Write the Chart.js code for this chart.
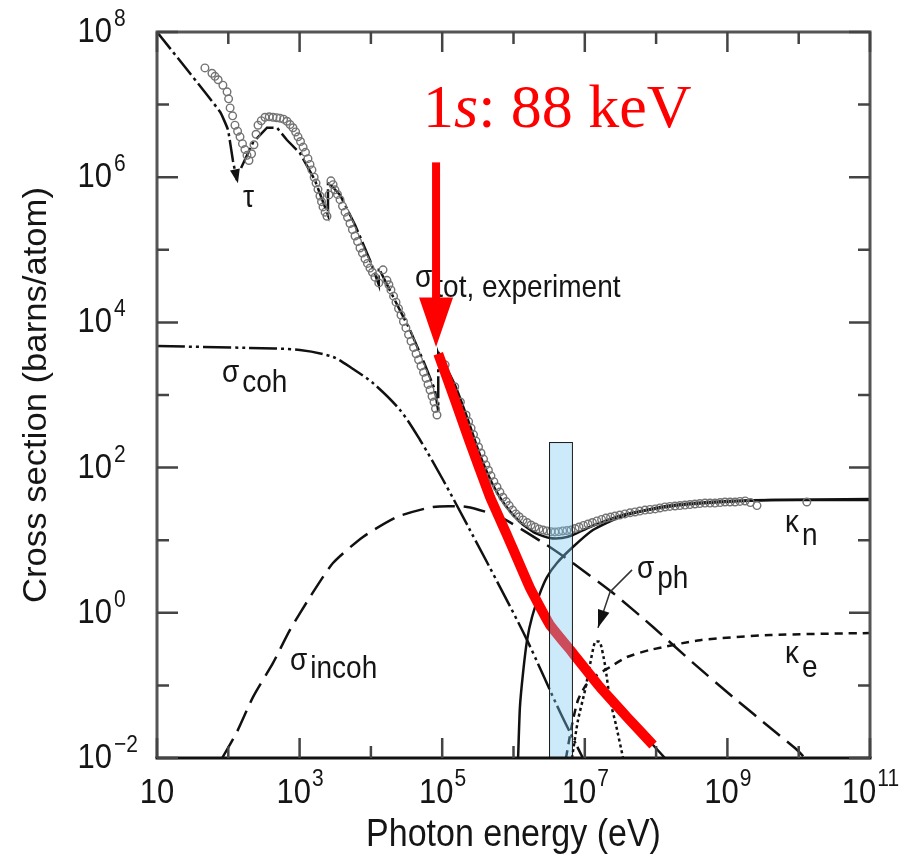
<!DOCTYPE html>
<html>
<head>
<meta charset="utf-8">
<script src="https://cdn.jsdelivr.net/npm/chart.js@4.4.1/dist/chart.umd.min.js"></script>
<style>
  html, body { margin: 0; padding: 0; background: #fff; }
  #wrap { width: 921px; height: 861px; }
</style>
</head>
<body>
<div id="wrap"><canvas id="grafico"></canvas></div>
<script>
// photon energy in eV, cross section in barns/atom (lead)

// photoelectric tau, below the M edges (ends in the arrow)
const tauLow = [[10, 1e8], [29, 2.7e7], [77, 7.9e6], [99, 4.5e6], [116, 1.7e6], [132, 9.1e5]];
// photoelectric tau, M and L edges up to the K edge
const tauMid = [[151, 1.34e6], [222, 3.0e6], [349, 4.8e6], [482, 4.8e6], [665, 3.25e6], [1010, 2.15e6],
  [1640, 9.1e5], [2500, 3.0e5], [2500, 8.6e5], [3690, 5.7e5], [6000, 2.2e5], [9700, 7.2e4],
  [12900, 3.3e4], [12900, 5.6e4], [21800, 2.0e4], [35300, 7900], [57400, 2600], [79200, 1170], [88000, 600]];
// photoelectric tau above the 1s edge (88 keV), drawn in red
const tauHigh = [[88000, 3700], [1.51e5, 853], [2.38e5, 240], [4.68e5, 39.4], [8.1e5, 11.8], [1.7e6, 2.2],
  [3.25e6, 0.68], [6.6e6, 0.288], [1.63e7, 0.095], [3.91e7, 0.0367], [9.06e7, 0.0151]];
const tauEnd = [1.33e8, 0.01];

const totalCalc = [[88000, 3900], [1.51e5, 1370], [2.3e5, 453], [3.39e5, 149], [5.15e5, 57.5], [7.6e5, 30.5],
  [1.23e6, 17.8], [2.0e6, 12.6], [3.25e6, 10.7], [4.8e6, 10.7], [6.8e6, 11.8], [1.18e7, 15.2],
  [3.4e7, 22.2], [1.73e8, 29.6], [8.7e8, 33.6], [4.4e9, 35.8], [1e11, 36.9]];

// measured total cross section (open circles)
const expData = [[47, 3.2e7], [59, 2.7e7], [65, 2.45e7], [72, 2.2e7], [84, 1.85e7], [96, 1.5e7], [101, 1.2e7],
  [106, 9.0e6], [115, 7.0e6], [124, 5.2e6], [135, 4.3e6], [146, 3.6e6], [158, 2.9e6], [171, 2.4e6],
  [183, 2.0e6], [195, 1.7e6], [212, 2.1e6], [229, 2.8e6], [245, 3.9e6], [261, 5.2e6], [290, 6.0e6],
  [327, 6.7e6], [375, 6.8e6], [424, 6.7e6], [478, 6.6e6], [531, 6.5e6], [596, 6.3e6], [665, 5.9e6],
  [735, 5.3e6], [807, 4.8e6], [880, 4.2e6], [950, 3.6e6], [1030, 3.1e6], [1120, 2.6e6], [1210, 2.2e6],
  [1310, 1.8e6], [1400, 1.5e6], [1490, 1.26e6], [1600, 1.0e6], [1700, 8.3e5], [1810, 6.8e5], [1930, 5.5e5],
  [2030, 4.6e5], [2130, 3.9e5], [2280, 3.3e5], [2420, 2.9e5], [2580, 5.7e5], [2750, 8.9e5], [2950, 7.9e5],
  [3130, 6.7e5], [3400, 5.8e5], [3690, 4.9e5], [4000, 4.0e5], [4340, 3.3e5], [4700, 2.8e5], [5090, 2.3e5],
  [5500, 1.9e5], [5990, 1.55e5], [6500, 1.3e5], [7030, 1.06e5], [7600, 9.0e4], [8260, 7.5e4], [8950, 6.5e4],
  [9700, 5.6e4], [10500, 4.9e4], [11400, 4.2e4], [12900, 3.5e4], [14800, 5.3e4], [16800, 3.8e4],
  [17900, 3.3e4], [19100, 2.8e4], [20800, 2.3e4], [22500, 1.9e4], [24400, 1.55e4], [26400, 1.26e4],
  [28600, 1.03e4], [31000, 8400], [33700, 6800], [36500, 5500], [39600, 4500], [43000, 3700], [46600, 3050],
  [50400, 2500], [54700, 2050], [59300, 1700], [63300, 1400], [67500, 1170], [72000, 960], [76800, 800],
  [80500, 650], [84500, 530], [1.1e5, 2600], [1.5e5, 1300], [1.8e5, 800], [2.16e5, 530], [2.35e5, 430],
  [2.54e5, 350], [2.75e5, 285], [2.98e5, 232], [3.23e5, 192], [3.5e5, 159], [3.8e5, 131], [4.1e5, 109],
  [4.45e5, 92], [4.83e5, 77], [5.3e5, 64], [5.87e5, 54], [6.45e5, 46], [7.1e5, 39], [7.9e5, 34], [8.7e5, 30],
  [9.7e5, 26], [1.08e6, 23], [1.2e6, 21], [1.36e6, 19], [1.55e6, 17.5], [1.76e6, 16.2], [2.0e6, 15.2],
  [2.28e6, 14.3], [2.6e6, 13.8], [2.95e6, 13.4], [3.35e6, 13.1], [3.8e6, 13], [4.3e6, 13.1], [4.9e6, 13.4],
  [5.6e6, 13.6], [6.4e6, 13.8], [7.3e6, 14.5], [8.3e6, 15.2], [9.6e6, 16], [1.11e7, 16.7], [1.28e7, 17.5],
  [1.48e7, 18.4], [1.72e7, 19.3], [1.98e7, 20.2], [2.3e7, 20.8], [2.65e7, 21.5], [3.1e7, 22.2], [3.66e7, 23],
  [4.3e7, 23.8], [5.06e7, 24.5], [5.9e7, 25.2], [6.98e7, 26], [8.2e7, 26.5], [9.7e7, 27], [1.13e8, 27.8],
  [1.33e8, 28.7], [1.56e8, 29.2], [1.84e8, 29.6], [2.16e8, 30], [2.54e8, 30.5], [2.98e8, 31], [3.5e8, 31.5],
  [4.1e8, 32], [4.85e8, 32.5], [5.7e8, 32.5], [6.7e8, 32.5], [7.9e8, 33], [9.25e8, 33.6], [1.09e9, 33.6],
  [1.28e9, 33.6], [1.5e9, 34.2], [1.77e9, 34.7], [2.1e9, 33], [2.6e9, 30], [1.3e10, 33.6]];

const cohData = [[10, 4730], [201, 4440], [1010, 4170], [2940, 3340], [5610, 2280], [10700, 1460], [25600, 621],
  [48900, 240], [1.03e5, 67.5], [2.45e5, 13.8], [6.47e5, 2.26], [1.55e6, 0.42], [4.49e6, 0.043], [9.4e6, 0.01]];

const incohData = [[82, 0.01], [132, 0.0228], [222, 0.069], [424, 0.204], [733, 0.58], [1400, 1.65], [2940, 4.85],
  [7740, 11.1], [23200, 20.9], [74300, 28.7], [2.23e5, 28.7], [6.47e5, 20.9], [2.77e6, 8.87], [6.8e6, 4.85],
  [2.49e7, 1.87], [9.06e7, 0.637], [3.3e8, 0.204], [1.2e9, 0.069], [4.35e9, 0.0243], [9.5e9, 0.0129], [1.22e10, 0.01]];

const kappaN = [[1.16e6, 0.01], [1.23e6, 0.05], [1.36e6, 0.148], [1.55e6, 0.42], [1.82e6, 0.875], [2.35e6, 1.87],
  [2.95e6, 3.11], [4.07e6, 4.85], [6.8e6, 8.05], [1.3e7, 13.8], [3.12e7, 20.9], [1.14e8, 28.7], [5.7e8, 33.6],
  [3.96e9, 35.8], [1e11, 35.8]];

const kappaE = [[5.45e6, 0.01], [6.6e6, 0.0285], [8.03e6, 0.063], [1.04e7, 0.101], [1.48e7, 0.139], [2.26e7, 0.179],
  [3.91e7, 0.246], [8.2e7, 0.308], [4.13e8, 0.42], [3.96e9, 0.494], [1e11, 0.527]];

const photoNuc = [[6.6e6, 0.01], [8.03e6, 0.0333], [1.01e7, 0.0865], [1.18e7, 0.191], [1.39e7, 0.396],
  [1.63e7, 0.396], [1.92e7, 0.191], [2.26e7, 0.063], [2.74e7, 0.0285], [3.44e7, 0.01]];

// shaded energy band and its height
const bandE = [3.15e6, 6.6e6];
const bandTop = 225;
// red arrow at the 1s edge: energy, then top / base of head / tip in barns
const edgeE = 8.2e4;
const edgeArrow = [1.6e6, 2.2e4, 4600];
// leader line from the sigma_ph label to its curve
const phLeader = [[4.6e7, 3.9], [2.26e7, 1.94], [1.53e7, 0.62]];

const xTickExp = [1, 3, 5, 7, 9, 11];
const yTickExp = [-2, 0, 2, 4, 6, 8];

const toXY = arr => arr.map(([x, y]) => ({ x, y }));

const SY = 1.15;
const FONT = '"Liberation Sans", Arial, sans-serif';
const SERIF = '"Liberation Serif", "Times New Roman", serif';

function txt(ctx, s, x, y, size, opts = {}) {
  ctx.save();
  ctx.translate(x, y);
  ctx.scale(1, opts.sy || SY);
  ctx.font = `${opts.style || ''} ${size}px ${opts.family || FONT}`;
  ctx.fillStyle = opts.color || '#151515';
  ctx.textAlign = opts.align || 'left';
  ctx.textBaseline = 'alphabetic';
  ctx.fillText(s, 0, 0);
  const w = ctx.measureText(s).width;
  ctx.restore();
  return w;
}

function measure(ctx, s, size) {
  ctx.save();
  ctx.font = `${size}px ${FONT}`;
  const w = ctx.measureText(s).width;
  ctx.restore();
  return w;
}

function arrowHead(ctx, x0, y0, x1, y1, len, half) {
  const a = Math.atan2(y1 - y0, x1 - x0);
  const bx = x1 - len * Math.cos(a), by = y1 - len * Math.sin(a);
  ctx.beginPath();
  ctx.moveTo(x1, y1);
  ctx.lineTo(bx + half * Math.sin(a), by - half * Math.cos(a));
  ctx.lineTo(bx - half * Math.sin(a), by + half * Math.cos(a));
  ctx.closePath();
  ctx.fill();
}

const decorations = {
  id: 'decorations',
  afterDatasetsDraw(chart) {
    const { ctx, chartArea: a, scales: { x, y } } = chart;
    const px = v => x.getPixelForValue(v);
    const py = v => y.getPixelForValue(v);

    // light blue band
    const bx0 = px(bandE[0]), bx1 = px(bandE[1]), by0 = py(bandTop);
    ctx.save();
    ctx.fillStyle = 'rgba(120,200,240,0.38)';
    ctx.fillRect(bx0, by0, bx1 - bx0, a.bottom - by0);
    ctx.strokeStyle = '#1a1a1a';
    ctx.lineWidth = 1;
    ctx.strokeRect(bx0 + 0.5, by0 + 0.5, bx1 - bx0, a.bottom - by0);
    ctx.restore();

    // frame
    ctx.save();
    ctx.lineWidth = 3;
    ctx.strokeStyle = '#555';
    ctx.beginPath();
    ctx.moveTo(a.left, a.bottom); ctx.lineTo(a.left, a.top); ctx.lineTo(a.right, a.top); ctx.lineTo(a.right, a.bottom);
    ctx.stroke();
    ctx.strokeStyle = '#111';
    ctx.beginPath();
    ctx.moveTo(a.left - 1.5, a.bottom); ctx.lineTo(a.right + 1.5, a.bottom);
    ctx.stroke();

    // inward ticks
    ctx.lineWidth = 2.5;
    ctx.strokeStyle = '#444';
    for (let e = 1; e <= 11; e++) {
      const xx = px(Math.pow(10, e));
      const len = e % 2 ? 20 : 12;
      ctx.beginPath();
      ctx.moveTo(xx, a.bottom); ctx.lineTo(xx, a.bottom - len);
      ctx.moveTo(xx, a.top); ctx.lineTo(xx, a.top + len);
      ctx.stroke();
    }
    for (let e = -2; e <= 8; e++) {
      const yy = py(Math.pow(10, e));
      const len = e % 2 ? 12 : 21;
      ctx.beginPath();
      ctx.moveTo(a.left, yy); ctx.lineTo(a.left + len, yy);
      ctx.moveTo(a.right, yy); ctx.lineTo(a.right - len, yy);
      ctx.stroke();
    }
    ctx.restore();

    // tick labels
    const big = 31, sup = 21;
    xTickExp.forEach(e => {
      const xx = px(Math.pow(10, e));
      const s = e === 1 ? '' : String(e);
      const w10 = measure(ctx, '10', big), ws = s ? measure(ctx, s, sup) : 0;
      const x0 = xx - (w10 + ws) / 2;
      txt(ctx, '10', x0, 803, big);
      if (s) txt(ctx, s, x0 + w10 + 1, 786, sup);
    });
    yTickExp.forEach(e => {
      const yy = py(Math.pow(10, e));
      txt(ctx, '10', 112, yy + 10, big, { align: 'right' });
      txt(ctx, e < 0 ? '\u2212' + (-e) : String(e), 114, yy - 6, sup);
    });

    // axis titles
    txt(ctx, 'Photon energy (eV)', (a.left + a.right) / 2, 846, 34, { align: 'center' });
    ctx.save();
    ctx.translate(46, (a.top + a.bottom) / 2);
    ctx.rotate(-Math.PI / 2);
    ctx.scale(1.05, 1);
    ctx.font = `33px ${FONT}`;
    ctx.fillStyle = '#151515';
    ctx.textAlign = 'center';
    ctx.fillText('Cross section (barns/atom)', 0, 0);
    ctx.restore();

    // curve labels
    const lab = (main, sub, lx, ly, drop) => {
      const w = txt(ctx, main, lx, ly, 28);
      if (sub) txt(ctx, sub, lx + w + 3, ly + drop, 28);
    };
    lab('\u03C4', '', 243, 207, 0);
    lab('\u03C3', 'tot, experiment', 415, 287, 10);
    lab('\u03C3', 'coh', 222, 382, 10);
    lab('\u03C3', 'incoh', 290, 670, 8);
    lab('\u03BA', 'n', 785, 532, 13);
    lab('\u03BA', 'e', 785, 663, 14);
    lab('\u03C3', 'ph', 637, 578, 10);

    // leader to sigma_ph, arrowhead at the end of the low tau branch
    ctx.save();
    ctx.strokeStyle = '#333';
    ctx.fillStyle = '#111';
    ctx.lineWidth = 1.5;
    const lp = phLeader.map(([e, s]) => [px(e), py(s)]);
    ctx.beginPath();
    lp.forEach(([u, v], i) => i ? ctx.lineTo(u, v) : ctx.moveTo(u, v));
    ctx.stroke();
    const n = lp.length;
    arrowHead(ctx, lp[n - 2][0], lp[n - 2][1], lp[n - 1][0], lp[n - 1][1], 18, 6);
    const t1 = tauLow[tauLow.length - 2], t2 = tauLow[tauLow.length - 1];
    arrowHead(ctx, px(t1[0]), py(t1[1]), px(t2[0]) + 1, py(t2[1]) + 3, 14, 5);
    ctx.restore();

    // red arrow at the 1s edge
    const ax = px(edgeE);
    ctx.save();
    ctx.fillStyle = '#ff0000';
    ctx.fillRect(ax - 4, py(edgeArrow[0]), 8, py(edgeArrow[1]) - py(edgeArrow[0]) + 1);
    ctx.beginPath();
    ctx.moveTo(ax - 17, py(edgeArrow[1]));
    ctx.lineTo(ax + 17, py(edgeArrow[1]));
    ctx.lineTo(ax, py(edgeArrow[2]));
    ctx.closePath();
    ctx.fill();
    ctx.restore();

    // red caption "1s: 88 keV" with italic s
    let cx = 423;
    cx += txt(ctx, '1', cx, 127, 62, { family: SERIF, color: '#ff0000', sy: 1 });
    cx += txt(ctx, 's', cx, 127, 62, { family: SERIF, style: 'italic', color: '#ff0000', sy: 1 });
    txt(ctx, ': 88 keV', cx, 127, 62, { family: SERIF, color: '#ff0000', sy: 1 });
  }
};

const line = (data, extra) => Object.assign({
  data: toXY(data), showLine: true, pointRadius: 0, borderColor: '#111',
  borderWidth: 2.5, fill: false, tension: 0.2
}, extra);

new Chart(document.getElementById('grafico'), {
  type: 'scatter',
  data: {
    datasets: [
      line(tauHigh, { borderColor: '#ff0000', borderWidth: 10, tension: 0.1, order: 0 }),
      {
        data: toXY(expData), showLine: false, pointRadius: 3.8, pointBorderWidth: 1.4,
        pointBorderColor: '#737373', pointBackgroundColor: 'rgba(255,255,255,0)', order: 1
      },
      line(totalCalc, { order: 2 }),
      line(tauLow, { borderDash: [22, 4, 3, 4], tension: 0.1, order: 3 }),
      line([...tauMid, ...tauHigh, tauEnd], { borderDash: [22, 4, 3, 4], tension: 0, order: 3 }),
      line(cohData, { borderDash: [28, 4, 3, 4, 3, 4], tension: 0.3, order: 3 }),
      line(incohData, { borderDash: [22, 9], order: 3 }),
      line(kappaN, { order: 3 }),
      line(kappaE, { borderDash: [8, 6], order: 3 }),
      line(photoNuc, { borderDash: [3, 3], order: 3 })
    ]
  },
  options: {
    responsive: true,
    maintainAspectRatio: false,
    animation: false,
    events: [],
    layout: { padding: { left: 157, right: 51, top: 32, bottom: 103 } },
    scales: {
      x: { type: 'logarithmic', min: 10, max: 1e11, display: false },
      y: { type: 'logarithmic', min: 0.01, max: 1e8, display: false }
    },
    plugins: { legend: { display: false }, tooltip: { enabled: false } }
  },
  plugins: [decorations]
});
</script>
</body>
</html>
